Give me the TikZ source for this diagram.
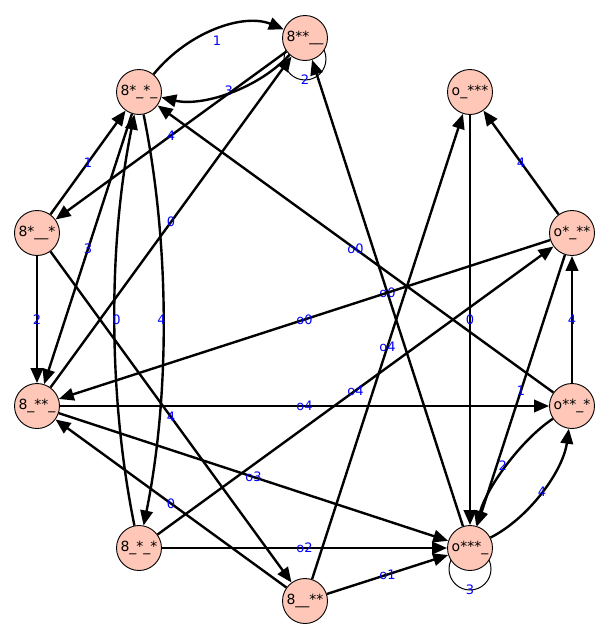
\documentclass[tikz,border=0pt]{standalone}
\usepackage{fontspec}
\setmainfont{DejaVu Sans}
\usetikzlibrary{arrows.meta,backgrounds}
\definecolor{vfill}{HTML}{FEC7B8}
\begin{document}
\begin{tikzpicture}[x=1pt,y=-1pt,
  vert/.style={circle,draw=black,line width=0.9pt,fill=vfill,minimum size=45pt,inner sep=0pt,font=\fontsize{14}{16}\selectfont},
  edge/.style={line width=2.4pt,-{Triangle[length=15pt,width=12.5pt]}},
  loopedge/.style={line width=1pt},
  elab/.style={text=blue,font=\fontsize{13}{15}\selectfont,inner sep=0pt}]
\useasboundingbox (0,0) rectangle (609,640);
% vertices
\node[vert] (A) at (305,38)  {8**\_\_};
\node[vert] (B) at (139,92)  {8*\_*\_};
\node[vert] (C) at (470,92)  {o\_***};
\node[vert] (D) at (37,233)  {8*\_\_*};
\node[vert] (E) at (572,233) {o*\_**};
\node[vert] (F) at (37,406)  {8\_**\_};
\node[vert] (G) at (572,406) {o**\_*};
\node[vert] (H) at (139,548) {8\_*\_*};
\node[vert] (I) at (470,548) {o***\_};
\node[vert] (J) at (305,601) {8\_\_**};
% self loops
\begin{scope}[on background layer]
\draw[loopedge] ([yshift=-21pt]A.center) circle[radius=21pt];
\draw[loopedge] ([yshift=-21pt]I.center) circle[radius=21pt];
\end{scope}
\node[elab] (lA) at ([yshift=-42pt]A.center) {2};
\node[elab] (lI) at ([yshift=-42pt]I.center) {3};
% curved edges
\draw[edge] (B) .. controls (189,31) and (244,13) .. (A) node[elab,pos=.5,yshift=-11pt] (l1) {1};
\draw[edge] (A) .. controls (258,89) and (202,107) .. (B) node[elab,pos=.5,yshift=2pt] (l2) {3};
\draw[edge] (B) .. controls (170,244) and (170,396) .. (H) node[elab,pos=.5,xshift=-2pt] (l3) {4};
\draw[edge] (H) .. controls (108,396) and (108,244) .. (B) node[elab,pos=.5,xshift=2pt] (l4) {0};
\draw[edge] (G) .. controls (521,440) and (487,487) .. (I) node[elab,pos=.5,xshift=-4pt] (l5) {2};
\draw[edge] (I) .. controls (529,518) and (563,471) .. (G) node[elab,pos=.5] (l6) {4};
% straight edges
\draw[edge] (A) -- node[elab,midway] {4} (D);
\draw[edge] (F) -- node[elab,midway] {0} (A);
\draw[edge] (I) -- node[elab,midway] {o0} (A);
\draw[edge] (G) -- node[elab,midway] {o0} (B);
\draw[edge] (E) -- node[elab,midway] {o0} (F);
\draw[edge] (J) -- node[elab,midway] {o4} (C);
\draw[edge] (H) -- node[elab,midway] {o4} (E);
\draw[edge] (F) -- node[elab,midway] {o4} (G);
\draw[edge] (F) -- node[elab,midway] {o3} (I);
\draw[edge] (H) -- node[elab,midway] {o2} (I);
\draw[edge] (J) -- node[elab,midway] {o1} (I);
\draw[edge] (C) -- node[elab,midway] {0} (I);
\draw[edge] (E) -- node[elab,midway] {4} (C);
\draw[edge] (G) -- node[elab,midway] {4} (E);
\draw[edge] (E) -- node[elab,midway] {1} (I);
\draw[edge] (D) -- node[elab,midway] {1} (B);
\draw[edge] (D) -- node[elab,midway] {2} (F);
\draw[edge] (D) -- node[elab,midway] {4} (J);
\draw[edge] (B) -- node[elab,midway] {3} (F);
\draw[edge] (J) -- node[elab,midway] {0} (F);
\end{tikzpicture}
\end{document}
